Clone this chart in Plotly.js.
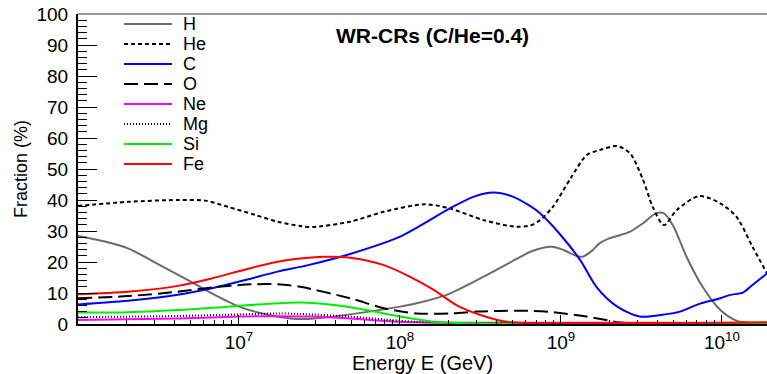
<!DOCTYPE html>
<html>
<head>
<meta charset="utf-8">
<script src="https://cdn.plot.ly/plotly-3.0.1.min.js"></script>
<style>
  html, body { margin: 0; padding: 0; background: #fff; }
  #chart { width: 767px; height: 374px; }
</style>
</head>
<body>
<div id="chart"></div>
<script>
// Composition of WR cosmic rays versus energy.
// Energies are stored as log10(E / GeV); fractions in percent.
const logE_H  = [6.00, 6.15, 6.31, 6.52, 6.68, 6.83, 7.00, 7.16, 7.32, 7.45, 7.63, 8.00, 8.13, 8.29, 8.52, 8.75, 8.81, 8.94, 9.02, 9.10, 9.14, 9.19, 9.24, 9.30, 9.37, 9.43, 9.51, 9.59, 9.64, 9.70, 9.78, 9.88, 9.99, 10.09, 10.19, 10.28];
const frac_H  = [28.4, 26.8, 24.4, 18.7, 14.2, 9.9, 5.6, 3.2, 1.8, 1.7, 2.7, 5.6, 7.0, 9.4, 15.3, 21.7, 23.3, 24.9, 23.8, 21.9, 21.8, 23.5, 26.0, 27.6, 28.7, 29.8, 32.5, 35.7, 35.7, 31.4, 21.7, 12.0, 4.5, 1.1, 0.3, 0.2];

const logE_He = [6.00, 6.31, 6.62, 6.79, 6.93, 7.10, 7.24, 7.38, 7.46, 7.69, 7.90, 8.15, 8.31, 8.52, 8.72, 8.81, 8.87, 8.95, 9.06, 9.16, 9.24, 9.35, 9.43, 9.51, 9.57, 9.64, 9.72, 9.86, 9.99, 10.09, 10.19, 10.28];
const frac_He = [38.1, 39.4, 40.0, 39.8, 37.8, 35.2, 33.0, 31.6, 31.3, 33.0, 36.2, 38.6, 37.3, 33.5, 31.4, 31.8, 33.5, 37.8, 47.0, 54.5, 56.1, 57.4, 55.0, 46.5, 37.8, 31.9, 36.8, 41.3, 38.9, 34.6, 24.9, 16.3];

const logE_C  = [6.00, 6.31, 6.62, 6.83, 7.04, 7.24, 7.43, 7.69, 8.00, 8.31, 8.46, 8.58, 8.70, 8.81, 8.87, 8.99, 9.12, 9.22, 9.35, 9.49, 9.62, 9.74, 9.86, 9.99, 10.05, 10.13, 10.19, 10.28];
const frac_C  = [6.3, 7.5, 9.4, 11.5, 14.2, 16.9, 19.0, 22.6, 28.2, 37.3, 41.1, 42.4, 41.1, 38.0, 35.7, 29.2, 20.6, 12.0, 5.6, 2.4, 2.9, 4.0, 6.5, 8.3, 9.4, 10.1, 12.6, 16.3];

const logE_O  = [6.00, 6.31, 6.62, 6.87, 7.08, 7.24, 7.38, 7.69, 7.90, 8.10, 8.31, 8.48, 8.62, 8.75, 8.95, 9.16, 9.37, 9.55, 10.28];
const frac_O  = [8.3, 9.0, 10.4, 12.0, 12.8, 12.8, 12.0, 8.3, 5.1, 3.4, 3.4, 4.0, 4.2, 4.3, 3.8, 2.4, 0.5, 0.1, 0.1];

const logE_Ne = [6.00, 6.62, 7.00, 7.20, 7.43, 7.69, 8.00, 8.31, 9.00, 9.50, 10.28];
const frac_Ne = [1.3, 1.8, 2.4, 2.5, 2.4, 1.8, 0.7, 0.4, 0.4, 0.4, 0.3];

const logE_Mg = [6.00, 6.62, 7.00, 7.24, 7.40, 7.69, 7.90, 8.10, 8.31, 9.00, 10.28];
const frac_Mg = [2.2, 2.6, 3.1, 3.4, 3.2, 2.4, 1.5, 0.7, 0.4, 0.3, 0.2];

const logE_Si = [6.00, 6.31, 6.62, 6.93, 7.24, 7.38, 7.59, 7.79, 8.00, 8.21, 8.37, 8.60, 10.28];
const frac_Si = [3.7, 3.8, 4.5, 5.6, 6.7, 6.9, 6.1, 4.5, 2.4, 0.7, 0.3, 0.1, 0.1];

const logE_Fe = [6.00, 6.31, 6.62, 6.83, 7.04, 7.24, 7.43, 7.55, 7.69, 7.90, 8.06, 8.21, 8.35, 8.50, 8.66, 8.81, 9.50, 10.00, 10.28];
const frac_Fe = [9.6, 10.4, 12.3, 14.7, 17.6, 20.1, 21.4, 21.7, 21.4, 19.0, 15.3, 11.0, 6.1, 2.9, 0.7, 0.3, 0.3, 0.4, 0.6];

const speciesNames = ['H', 'He', 'C', 'O', 'Ne', 'Mg', 'Si', 'Fe'];
const xTickVals = [1e7, 1e8, 1e9, 1e10];
const xTickText = ['10<sup>7</sup>', '10<sup>8</sup>', '10<sup>9</sup>', '10<sup>10</sup>'];

// Line styles per species
const styles = {
  H:  { color: '#6b6b6b', dash: 'solid',     width: 2 },
  He: { color: '#000000', dash: '4px,3px',   width: 2 },
  C:  { color: '#0000ff', dash: 'solid',     width: 2 },
  O:  { color: '#000000', dash: '14px,6px',  width: 2 },
  Ne: { color: '#ff00ff', dash: 'solid',     width: 2 },
  Mg: { color: '#000000', dash: '1px,2px',   width: 2 },
  Si: { color: '#00ee00', dash: 'solid',     width: 2 },
  Fe: { color: '#ff0000', dash: 'solid',     width: 2 }
};

const seriesData = {
  H: [logE_H, frac_H], He: [logE_He, frac_He], C: [logE_C, frac_C], O: [logE_O, frac_O],
  Ne: [logE_Ne, frac_Ne], Mg: [logE_Mg, frac_Mg], Si: [logE_Si, frac_Si], Fe: [logE_Fe, frac_Fe]
};

const traces = speciesNames.map(n => ({
  type: 'scatter',
  mode: 'lines',
  name: n,
  x: seriesData[n][0].map(v => Math.pow(10, v)),
  y: seriesData[n][1],
  line: { color: styles[n].color, dash: styles[n].dash, width: styles[n].width, shape: 'spline', smoothing: 0.8 },
  showlegend: false,
  hoverinfo: 'x+y+name'
}));

// Hand-placed legend block in the upper left of the frame
const legX0 = 0.0668, legX1 = 0.1364, legTextX = 0.149, legTop = 0.968, legStep = 0.0645;
const shapes = speciesNames.map((n, i) => ({
  type: 'line', xref: 'paper', yref: 'paper',
  x0: legX0, x1: legX1, y0: legTop - i * legStep, y1: legTop - i * legStep,
  line: { color: styles[n].color, dash: styles[n].dash, width: styles[n].width }
}));
// grey upper frame edge
shapes.push({ type: 'line', xref: 'paper', yref: 'paper', x0: 0, x1: 1, y0: 1, y1: 1,
  line: { color: '#777777', width: 1.5 } });

const annotations = speciesNames.map((n, i) => ({
  xref: 'paper', yref: 'paper', x: legTextX, y: legTop - i * legStep,
  xanchor: 'left', yanchor: 'middle', showarrow: false, text: n,
  font: { size: 18, color: '#000' }
}));
annotations.push({
  xref: 'paper', yref: 'paper', x: 0.515, y: 0.932, xanchor: 'center', yanchor: 'middle',
  showarrow: false, text: '<b>WR-CRs (C/He=0.4)</b>', font: { size: 21, color: '#000' }
});

const layout = {
  width: 767, height: 374,
  margin: { l: 78, r: 0, t: 14, b: 50 },
  paper_bgcolor: '#ffffff', plot_bgcolor: '#ffffff',
  font: { family: 'Liberation Sans, Arial, Helvetica, sans-serif', color: '#000' },
  showlegend: false,
  xaxis: {
    type: 'log', range: [6, 10.28],
    tickmode: 'array', tickvals: xTickVals, ticktext: xTickText,
    ticks: 'inside', ticklen: 9, tickwidth: 1, tickcolor: '#000',
    minor: { ticks: 'inside', ticklen: 4.5, tickwidth: 1, tickcolor: '#000', dtick: 'D1' },
    showline: true, linecolor: '#000', linewidth: 2,
    showgrid: false, zeroline: false,
    tickfont: { size: 19 },
    title: { text: 'Energy E (GeV)', font: { size: 20 }, standoff: 0 },
    automargin: false
  },
  yaxis: {
    range: [0, 100], dtick: 10,
    ticks: 'inside', ticklen: 19, tickwidth: 1, tickcolor: '#000',
    minor: { ticks: 'inside', ticklen: 9, tickwidth: 1, tickcolor: '#000', dtick: 2 },
    showline: true, linecolor: '#000', linewidth: 2,
    showgrid: false, zeroline: false,
    tickfont: { size: 19 },
    ticklabelstandoff: 4,
    title: { text: 'Fraction (%)', font: { size: 18 }, standoff: 4 },
    automargin: false
  },
  shapes: shapes,
  annotations: annotations
};

Plotly.newPlot('chart', traces, layout, { staticPlot: true, displayModeBar: false });
</script>
</body>
</html>
